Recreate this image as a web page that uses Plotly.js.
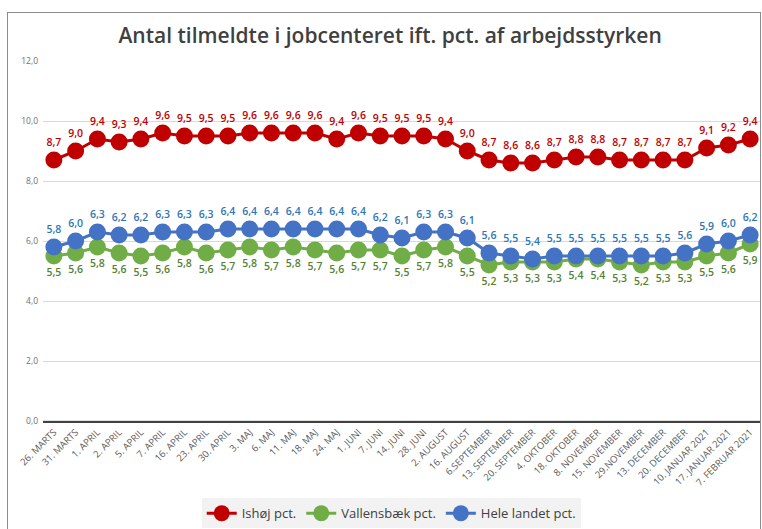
<!DOCTYPE html>
<html>
<head>
<meta charset="utf-8">
<script src="https://cdn.plot.ly/plotly-3.0.1.min.js"></script>
<style>
html,body{margin:0;padding:0;background:#fff;}
#wrap{position:relative;width:762px;height:529px;overflow:hidden;}
#frame{position:absolute;left:7px;top:12px;width:752px;height:530px;border:1px solid #8c8c8c;pointer-events:none;}
#chart{position:absolute;left:0;top:0;width:762px;height:529px;}
</style>
</head>
<body>
<div id="wrap"><div id="chart"></div><div id="frame"></div></div>
<script>
const categories = ["26. MARTS","31. MARTS","1. APRIL","2. APRIL","5. APRIL","7. APRIL","16. APRIL","23. APRIL","30. APRIL","3. MAJ","6. MAJ","11. MAJ","18. MAJ","24. MAJ","1. JUNI","7. JUNI","14. JUNI","28. JUNI","2. AUGUST","16. AUGUST","6.SEPTEMBER","13. SEPTEMBER","20. SEPTEMBER","4. OKTOBER","18. OKTOBER","8. NOVEMBER","15. NOVEMBER","29.NOVEMBER","13. DECEMBER","20. DECEMBER","10. JANUAR 2021","17. JANUAR 2021","7. FEBRUAR 2021"];
const ishoej = [8.7,9.0,9.4,9.3,9.4,9.6,9.5,9.5,9.5,9.6,9.6,9.6,9.6,9.4,9.6,9.5,9.5,9.5,9.4,9.0,8.7,8.6,8.6,8.7,8.8,8.8,8.7,8.7,8.7,8.7,9.1,9.2,9.4];
const vallensbaek = [5.5,5.6,5.8,5.6,5.5,5.6,5.8,5.6,5.7,5.8,5.7,5.8,5.7,5.6,5.7,5.7,5.5,5.7,5.8,5.5,5.2,5.3,5.3,5.3,5.4,5.4,5.3,5.2,5.3,5.3,5.5,5.6,5.9];
const heleLandet = [5.8,6.0,6.3,6.2,6.2,6.3,6.3,6.3,6.4,6.4,6.4,6.4,6.4,6.4,6.4,6.2,6.1,6.3,6.3,6.1,5.6,5.5,5.4,5.5,5.5,5.5,5.5,5.5,5.5,5.6,5.9,6.0,6.2];
const seriesNames = ["Ishøj pct.","Vallensbæk pct.","Hele landet pct."];

const fmt = v => v.toFixed(1).replace('.', ',');
const labelFont = {family: "Open Sans, sans-serif", size: 10.5};

function series(name, y, color, textColor, pos) {
  return {
    type: 'scatter', mode: 'lines+markers+text', name: name,
    x: categories, y: y,
    text: y.map(fmt), textposition: pos,
    textfont: Object.assign({color: textColor, weight: 600}, labelFont),
    line: {color: color, width: 3},
    marker: {color: color, size: 17},
    cliponaxis: false, hoverinfo: 'x+y'
  };
}

const data = [
  series(seriesNames[0], ishoej, '#C00000', '#C00000', 'top center'),
  series(seriesNames[1], vallensbaek, '#70AD47', '#548235', 'bottom center'),
  series(seriesNames[2], heleLandet, '#4472C4', '#2E75B6', 'top center')
];

const layout = {
  width: 762, height: 529,
  margin: {l: 43, r: 1, t: 61, b: 108},
  paper_bgcolor: '#ffffff', plot_bgcolor: '#ffffff',
  separators: ',.',
  title: {text: 'Antal tilmeldte i jobcenteret ift. pct. af arbejdsstyrken',
          font: {family: 'Open Sans, sans-serif', size: 21, color: '#404040', weight: 600},
          x: 0.512, xanchor: 'center', y: 0.933, yanchor: 'middle', yref: 'container'},
  xaxis: {type: 'category', tickangle: -45, showgrid: false, zeroline: false,
          showline: true, linecolor: '#404040', linewidth: 2,
          tickfont: {family: 'Open Sans, sans-serif', size: 9.5, color: '#595959'},
          ticks: '', range: [-0.5, 32.5], automargin: false},
  yaxis: {range: [0, 12], dtick: 2, tickformat: '.1f', showgrid: true, gridcolor: '#d9d9d9',
          gridwidth: 1, zeroline: false, showline: false, ticks: '',
          tickfont: {family: 'Open Sans, sans-serif', size: 8.5, color: '#6f6f6f'},
          ticklabelstandoff: 4, automargin: false},
  showlegend: true,
  legend: {orientation: 'h', x: 0.485, xanchor: 'center', y: -0.298, yanchor: 'bottom',
           bgcolor: '#f2f2f2', font: {family: 'Open Sans, sans-serif', size: 13, color: '#404040'},
           itemwidth: 30, traceorder: 'normal'},
  shapes: [
    {type: 'line', xref: 'paper', yref: 'paper', x0: 0, x1: 1, y0: 0, y1: 0, line: {color: 'rgba(0,0,0,0.12)', width: 2}, layer: 'below'}
  ]
};

Plotly.newPlot('chart', data, layout, {displayModeBar: false, staticPlot: true});
</script>
</body>
</html>
